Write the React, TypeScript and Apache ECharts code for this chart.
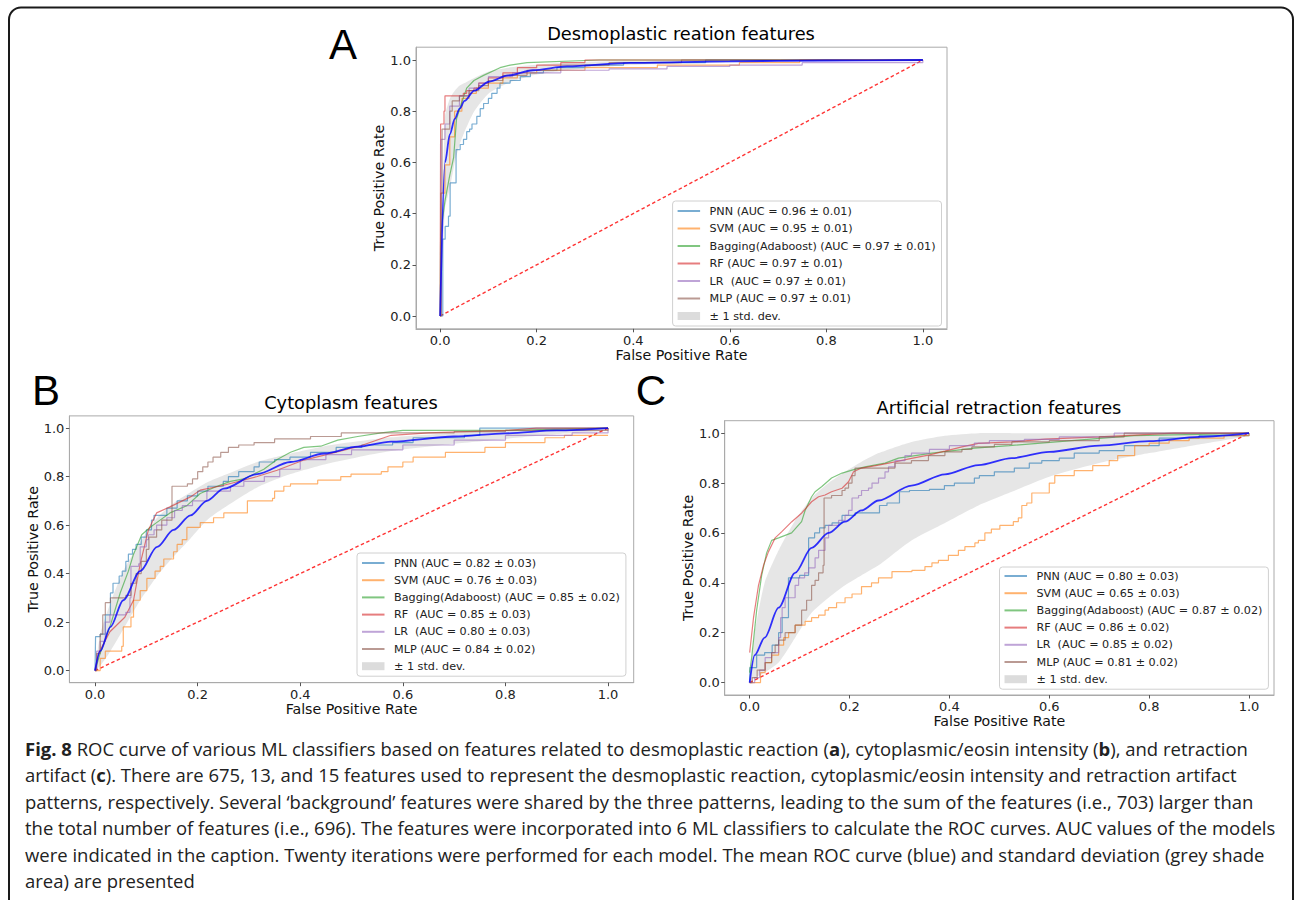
import React, { useEffect, useRef } from "react";
import * as echarts from "echarts";

const FONT = "DejaVu Sans";
const CAPTION_FONT = "Open Sans";
const CAPTION_SIZE = 18.5;
const TICKS = [0, 0.2, 0.4, 0.6, 0.8, 1.0];
const DIAGONAL = [[0, 0], [1, 1]];
const STD_LABEL = "± 1 std. dev.";
const CLASSIFIER_COLORS = ["#1f77b4", "#ff7f0e", "#2ca02c", "#d62728", "#9467bd", "#8c564b"];

// ---------------- Panel A: Desmoplastic reaction ----------------
const titleA = "Desmoplastic reation features";
const legendA = [
  "PNN (AUC = 0.96 ± 0.01)",
  "SVM (AUC = 0.95 ± 0.01)",
  "Bagging(Adaboost) (AUC = 0.97 ± 0.01)",
  "RF (AUC = 0.97 ± 0.01)",
  "LR  (AUC = 0.97 ± 0.01)",
  "MLP (AUC = 0.97 ± 0.01)",
];
const stepsA = ["end", "end", false, "end", "end", "end"];
const pnnA = [[0,0],[0.0055,0.30],[0.0104,0.35],[0.0173,0.39],[0.0207,0.52],[0.033,0.65],[0.0415,0.67],[0.0484,0.69],[0.055,0.72],[0.061,0.73],[0.066,0.75],[0.076,0.78],[0.083,0.81],[0.09,0.83],[0.1,0.85],[0.107,0.87],[0.118,0.89],[0.124,0.91],[0.145,0.92],[0.166,0.935],[0.187,0.95],[0.214,0.96],[0.242,0.97],[0.3,0.98],[0.38,0.99],[0.55,1.0],[1,1]];
const svmA = [[0,0],[0.002,0.48],[0.01,0.59],[0.02,0.7],[0.03,0.8],[0.045,0.85],[0.06,0.87],[0.075,0.89],[0.1,0.91],[0.13,0.93],[0.16,0.95],[0.2,0.96],[0.3,0.97],[0.45,0.98],[0.62,0.99],[0.745,1.0],[1,1]];
const bagA = [[0,0],[0.001,0.32],[0.01,0.45],[0.02,0.55],[0.028,0.62],[0.034,0.77],[0.044,0.83],[0.055,0.89],[0.07,0.92],[0.09,0.94],[0.124,0.97],[0.145,0.98],[0.18,0.99],[0.33,1.0],[1,1]];
const rfA = [[0,0],[0.001,0.75],[0.008,0.80],[0.01,0.86],[0.048,0.87],[0.055,0.88],[0.07,0.89],[0.08,0.91],[0.1,0.93],[0.13,0.95],[0.16,0.97],[0.2,0.98],[0.25,0.99],[0.3,1.0],[1,1]];
const lrA = [[0,0],[0.002,0.69],[0.01,0.75],[0.02,0.82],[0.04,0.86],[0.06,0.89],[0.08,0.91],[0.1,0.935],[0.15,0.95],[0.25,0.96],[0.35,0.965],[0.47,0.975],[0.6,0.98],[0.75,0.99],[1,1]];
const mlpA = [[0,0],[0.002,0.48],[0.004,0.73],[0.02,0.80],[0.025,0.84],[0.04,0.86],[0.06,0.88],[0.08,0.9],[0.1,0.92],[0.13,0.94],[0.18,0.96],[0.25,0.98],[0.35,0.99],[0.5,1.0],[1,1]];
const meanA = [[0,0],[0.0101,0.6],[0.0202,0.71],[0.0303,0.77],[0.0404,0.81],[0.0505,0.84],[0.0707,0.88],[0.101,0.915],[0.141,0.94],[0.192,0.96],[0.263,0.975],[0.394,0.989],[0.6,0.995],[0.8,0.998],[1,1]];
const bandXA = [0,0.0101,0.0202,0.0303,0.0404,0.0505,0.0707,0.101,0.141,0.192,0.263,0.394,0.6,0.8,1];
const bandHiA = [0,0.78,0.85,0.88,0.9,0.91,0.93,0.955,0.97,0.98,0.99,0.997,1,1,1];
const bandLoA = [0,0.42,0.5,0.6,0.67,0.72,0.8,0.87,0.91,0.94,0.96,0.98,0.99,0.995,1];

// ---------------- Panel B: Cytoplasm ----------------
const titleB = "Cytoplasm features";
const legendB = [
  "PNN (AUC = 0.82 ± 0.03)",
  "SVM (AUC = 0.76 ± 0.03)",
  "Bagging(Adaboost) (AUC = 0.85 ± 0.02)",
  "RF  (AUC = 0.85 ± 0.03)",
  "LR  (AUC = 0.80 ± 0.03)",
  "MLP (AUC = 0.84 ± 0.02)",
];
const stepsB = ["end", "end", false, false, "end", "end"];
const pnnB = [[0,0],[0.001,0.14],[0.01,0.15],[0.02,0.23],[0.03,0.32],[0.035,0.36],[0.047,0.39],[0.053,0.41],[0.06,0.45],[0.065,0.48],[0.073,0.5],[0.08,0.52],[0.09,0.55],[0.1,0.58],[0.11,0.62],[0.115,0.64],[0.14,0.67],[0.16,0.7],[0.18,0.72],[0.2,0.74],[0.22,0.76],[0.25,0.78],[0.26,0.8],[0.28,0.82],[0.31,0.84],[0.32,0.86],[0.35,0.87],[0.38,0.88],[0.42,0.9],[0.47,0.92],[0.52,0.93],[0.58,0.94],[0.62,0.96],[0.72,0.97],[0.75,1.0],[1,1]];
const svmB = [[0,0],[0.01,0.05],[0.02,0.08],[0.052,0.1],[0.055,0.18],[0.07,0.22],[0.075,0.29],[0.088,0.33],[0.101,0.38],[0.117,0.41],[0.127,0.43],[0.134,0.46],[0.153,0.49],[0.16,0.52],[0.17,0.54],[0.179,0.59],[0.205,0.61],[0.231,0.63],[0.251,0.65],[0.297,0.70],[0.346,0.71],[0.35,0.74],[0.368,0.76],[0.381,0.77],[0.434,0.785],[0.479,0.80],[0.499,0.81],[0.558,0.82],[0.571,0.84],[0.6,0.86],[0.62,0.88],[0.683,0.9],[0.76,0.92],[0.8,0.94],[0.877,0.96],[0.915,0.97],[1,0.97]];
const bagB = [[0,0],[0.0098,0.07],[0.029,0.18],[0.049,0.32],[0.065,0.41],[0.075,0.48],[0.091,0.56],[0.107,0.59],[0.12,0.61],[0.146,0.65],[0.179,0.68],[0.205,0.73],[0.238,0.76],[0.264,0.78],[0.29,0.79],[0.329,0.83],[0.355,0.87],[0.381,0.9],[0.407,0.92],[0.44,0.925],[0.473,0.95],[0.512,0.965],[0.558,0.98],[0.6,0.99],[0.8,0.99],[1,1]];
const rfB = [[0,0],[0.0065,0.07],[0.029,0.16],[0.058,0.22],[0.075,0.29],[0.088,0.44],[0.104,0.58],[0.12,0.65],[0.146,0.675],[0.186,0.716],[0.205,0.744],[0.251,0.764],[0.316,0.8],[0.355,0.826],[0.407,0.868],[0.447,0.888],[0.512,0.923],[0.577,0.97],[0.65,0.98],[0.8,0.99],[0.86,1],[1,1]];
const lrB = [[0,0],[0.003,0.08],[0.01,0.12],[0.02,0.2],[0.029,0.23],[0.06,0.24],[0.068,0.3],[0.07,0.43],[0.085,0.44],[0.088,0.51],[0.1,0.54],[0.104,0.56],[0.115,0.58],[0.12,0.6],[0.14,0.63],[0.155,0.66],[0.17,0.68],[0.19,0.7],[0.218,0.74],[0.264,0.76],[0.29,0.78],[0.33,0.8],[0.36,0.83],[0.4,0.87],[0.45,0.89],[0.5,0.91],[0.6,0.93],[0.7,0.95],[0.8,0.97],[0.93,0.98],[1,1]];
const mlpB = [[0,0],[0.003,0.07],[0.01,0.15],[0.015,0.23],[0.02,0.28],[0.03,0.3],[0.06,0.31],[0.07,0.36],[0.08,0.4],[0.09,0.45],[0.1,0.5],[0.105,0.55],[0.12,0.58],[0.13,0.62],[0.15,0.62],[0.15,0.76],[0.18,0.77],[0.19,0.79],[0.2,0.82],[0.21,0.84],[0.22,0.86],[0.23,0.88],[0.245,0.9],[0.26,0.92],[0.28,0.93],[0.31,0.94],[0.35,0.955],[0.42,0.965],[0.48,0.98],[0.7,0.985],[0.8,0.99],[1,1]];
const meanB = [[0,0],[0.0101,0.08],[0.03,0.18],[0.055,0.29],[0.088,0.41],[0.121,0.51],[0.153,0.58],[0.186,0.64],[0.218,0.70],[0.251,0.75],[0.316,0.81],[0.381,0.86],[0.447,0.895],[0.512,0.923],[0.577,0.944],[0.7,0.965],[0.8,0.978],[0.9,0.99],[1,1]];
const bandXB = [0,0.0101,0.03,0.055,0.088,0.121,0.153,0.186,0.218,0.251,0.316,0.381,0.447,0.512,0.577,0.7,0.8,0.9,1];
const bandHiB = [0,0.15,0.28,0.41,0.53,0.63,0.69,0.735,0.775,0.805,0.86,0.895,0.925,0.945,0.962,0.98,0.99,0.997,1];
const bandLoB = [0,0.02,0.08,0.17,0.29,0.39,0.47,0.545,0.62,0.67,0.755,0.81,0.85,0.88,0.905,0.935,0.955,0.975,0.99];

// ---------------- Panel C: Artificial retraction ----------------
const titleC = "Artificial retraction features";
const legendC = [
  "PNN (AUC = 0.80 ± 0.03)",
  "SVM (AUC = 0.65 ± 0.03)",
  "Bagging(Adaboost) (AUC = 0.87 ± 0.02)",
  "RF (AUC = 0.86 ± 0.02)",
  "LR  (AUC = 0.85 ± 0.02)",
  "MLP (AUC = 0.81 ± 0.02)",
];
const stepsC = ["end", "end", false, false, "end", "end"];
const pnnC = [[0,0],[0.0004,0.06],[0.014,0.11],[0.03,0.12],[0.045,0.15],[0.058,0.2],[0.065,0.26],[0.0777,0.42],[0.1,0.43],[0.118,0.58],[0.13,0.6],[0.14,0.62],[0.151,0.63],[0.165,0.64],[0.185,0.67],[0.211,0.68],[0.26,0.71],[0.275,0.72],[0.3,0.765],[0.32,0.77],[0.36,0.775],[0.39,0.79],[0.41,0.8],[0.45,0.82],[0.46,0.83],[0.49,0.845],[0.53,0.86],[0.56,0.88],[0.585,0.89],[0.62,0.9],[0.65,0.92],[0.7,0.93],[0.75,0.95],[0.82,0.98],[0.9,0.99],[1,1]];
const svmC = [[0,0],[0.012,0.0],[0.0217,0.04],[0.031,0.08],[0.044,0.11],[0.058,0.15],[0.068,0.18],[0.078,0.2],[0.091,0.23],[0.111,0.245],[0.124,0.26],[0.138,0.27],[0.151,0.29],[0.158,0.3],[0.174,0.32],[0.191,0.34],[0.205,0.355],[0.224,0.385],[0.244,0.4],[0.258,0.42],[0.285,0.445],[0.325,0.45],[0.351,0.465],[0.365,0.48],[0.378,0.49],[0.398,0.51],[0.418,0.53],[0.431,0.545],[0.451,0.56],[0.458,0.57],[0.471,0.6],[0.484,0.615],[0.501,0.63],[0.528,0.645],[0.538,0.66],[0.545,0.71],[0.555,0.72],[0.565,0.76],[0.6,0.8],[0.611,0.83],[0.65,0.85],[0.687,0.87],[0.72,0.89],[0.737,0.91],[0.771,0.95],[0.8,0.96],[0.84,0.97],[0.88,0.98],[0.95,0.99],[1,1]];
const bagC = [[0,0.04],[0.004,0.1],[0.014,0.29],[0.024,0.43],[0.034,0.52],[0.044,0.57],[0.058,0.58],[0.084,0.6],[0.104,0.645],[0.111,0.69],[0.124,0.745],[0.131,0.765],[0.144,0.785],[0.164,0.82],[0.185,0.84],[0.205,0.852],[0.231,0.865],[0.271,0.88],[0.298,0.9],[0.365,0.92],[0.45,0.94],[0.52,0.95],[0.645,0.97],[0.77,0.99],[0.9,0.995],[1,1]];
const rfC = [[0,0.12],[0.0077,0.26],[0.0177,0.39],[0.0277,0.47],[0.0377,0.525],[0.051,0.58],[0.0644,0.605],[0.0844,0.645],[0.1044,0.68],[0.124,0.725],[0.138,0.745],[0.151,0.752],[0.164,0.765],[0.185,0.779],[0.198,0.805],[0.208,0.845],[0.224,0.86],[0.258,0.872],[0.291,0.885],[0.324,0.899],[0.358,0.912],[0.391,0.928],[0.425,0.945],[0.458,0.959],[0.525,0.965],[0.591,0.976],[0.7,0.985],[0.85,1],[1,1]];
const lrC = [[0,0],[0.01,0.02],[0.02,0.05],[0.031,0.1],[0.044,0.12],[0.058,0.18],[0.062,0.26],[0.065,0.3],[0.071,0.34],[0.091,0.39],[0.098,0.42],[0.11,0.44],[0.118,0.46],[0.131,0.5],[0.138,0.53],[0.151,0.58],[0.158,0.63],[0.178,0.65],[0.191,0.67],[0.198,0.69],[0.205,0.74],[0.218,0.75],[0.224,0.77],[0.238,0.78],[0.245,0.8],[0.258,0.82],[0.271,0.845],[0.278,0.865],[0.291,0.89],[0.311,0.91],[0.324,0.92],[0.36,0.935],[0.4,0.95],[0.45,0.96],[0.48,0.97],[0.55,0.975],[0.62,0.985],[0.73,1.0],[1,1]];
const mlpC = [[0,0],[0.005,0.02],[0.015,0.05],[0.031,0.08],[0.044,0.12],[0.051,0.15],[0.058,0.17],[0.071,0.2],[0.091,0.23],[0.104,0.29],[0.114,0.33],[0.124,0.39],[0.131,0.41],[0.138,0.44],[0.147,0.47],[0.149,0.74],[0.164,0.75],[0.185,0.77],[0.191,0.78],[0.198,0.8],[0.205,0.83],[0.211,0.86],[0.291,0.88],[0.324,0.89],[0.358,0.91],[0.391,0.925],[0.425,0.935],[0.445,0.945],[0.49,0.955],[0.525,0.965],[0.6,0.97],[0.7,0.985],[0.75,1],[1,1]];
const meanC = [[0,0],[0.0101,0.11],[0.03,0.18],[0.058,0.3],[0.091,0.44],[0.124,0.54],[0.158,0.6],[0.191,0.645],[0.224,0.69],[0.258,0.73],[0.324,0.79],[0.391,0.835],[0.458,0.872],[0.525,0.9],[0.6,0.925],[0.7,0.95],[0.8,0.968],[0.9,0.985],[1,1]];
const bandXC = [0,0.0101,0.03,0.058,0.091,0.124,0.158,0.191,0.224,0.258,0.324,0.391,0.458,0.525,0.6,0.7,0.8,0.9,1];
const bandHiC = [0,0.2,0.4,0.53,0.65,0.74,0.8,0.845,0.885,0.92,0.965,0.99,1,1,1,1,1,1,1];
const bandLoC = [0,0.02,0.04,0.08,0.18,0.28,0.34,0.39,0.43,0.47,0.57,0.64,0.71,0.765,0.825,0.88,0.92,0.955,0.99];

// ---------------- Caption ----------------
const CAPTION_LINES = [
  "{b|Fig. 8} ROC curve of various ML classifiers based on features related to desmoplastic reaction ({b|a}), cytoplasmic/eosin intensity ({b|b}), and retraction",
  "artifact ({b|c}). There are 675, 13, and 15 features used to represent the desmoplastic reaction, cytoplasmic/eosin intensity and retraction artifact",
  "patterns, respectively. Several \u2018background\u2019 features were shared by the three patterns, leading to the sum of the features (i.e., 703) larger than",
  "the total number of features (i.e., 696). The features were incorporated into 6 ML classifiers to calculate the ROC curves. AUC values of the models",
  "were indicated in the caption. Twenty iterations were performed for each model. The mean ROC curve (blue) and standard deviation (grey shade",
  "area) are presented",
];

const PANELS = [
  {
    letter: "A", title: titleA, legend: legendA, steps: stepsA,
    curves: [pnnA, svmA, bagA, rfA, lrA, mlpA], mean: meanA,
    bandX: bandXA, bandLo: bandLoA, bandHi: bandHiA,
    layout: { grid: { left: 416, top: 47.2, width: 531, height: 281.6 }, title: [681, 33], letterXY: [343, 44],
      legend: { left: 672.6, top: 201, gap: 5.5, padTop: 4 }, xNameGap: 18 },
  },
  {
    letter: "B", title: titleB, legend: legendB, steps: stepsB,
    curves: [pnnB, svmB, bagB, rfB, lrB, mlpB], mean: meanB,
    bandX: bandXB, bandLo: bandLoB, bandHi: bandHiB,
    layout: { grid: { left: 69.4, top: 415.9, width: 564.3, height: 266.8 }, title: [351, 402], letterXY: [46, 390],
      legend: { left: 357, top: 553, gap: 5.2, padTop: 4 }, xNameGap: 16 },
  },
  {
    letter: "C", title: titleC, legend: legendC, steps: stepsC,
    curves: [pnnC, svmC, bagC, rfC, lrC, mlpC], mean: meanC,
    bandX: bandXC, bandLo: bandLoC, bandHi: bandHiC,
    layout: { grid: { left: 724.7, top: 420.7, width: 549.3, height: 274.3 }, title: [999, 407], letterXY: [651, 390],
      legend: { left: 999.5, top: 567, gap: 5.2, padTop: 3 }, xNameGap: 16 },
  },
];

function measureRich(ctx: CanvasRenderingContext2D, s: string) {
  const re = /\{b\|([^}]*)\}/g;
  let w = 0, last = 0, m: RegExpExecArray | null;
  const normal = `${CAPTION_SIZE}px "${CAPTION_FONT}"`;
  const bold = `bold ${CAPTION_SIZE}px "${CAPTION_FONT}"`;
  while ((m = re.exec(s))) {
    ctx.font = normal; w += ctx.measureText(s.slice(last, m.index)).width;
    ctx.font = bold; w += ctx.measureText(m[1]).width;
    last = re.lastIndex;
  }
  ctx.font = normal; w += ctx.measureText(s.slice(last)).width;
  return w;
}

function buildOption() {
  const ctx = document.createElement("canvas").getContext("2d") as CanvasRenderingContext2D;
  const s1 = 1224 / measureRich(ctx, CAPTION_LINES[0]);
  const s4 = 1249 / measureRich(ctx, CAPTION_LINES[3]);
  const capScale = (s1 + s4) / 2;

  const series: any[] = [];
  PANELS.forEach((p, i) => {
    const ax = { xAxisIndex: i, yAxisIndex: i };
    series.push({
      ...ax, name: STD_LABEL, type: "custom", coordinateSystem: "cartesian2d", silent: true, z: 1,
      itemStyle: { color: "#d9d9d9" },
      data: [[0.5, 0.5]], encode: { x: 0, y: 1 },
      renderItem: (_params: any, api: any) => {
        const upper = p.bandX.map((x, k) => api.coord([x, p.bandHi[k]]));
        const lower = p.bandX.map((x, k) => api.coord([x, p.bandLo[k]])).reverse();
        return {
          type: "polygon",
          shape: { points: upper.concat(lower), smooth: 0.2 },
          style: { fill: "rgba(128,128,128,0.2)", stroke: "none" },
          silent: true,
        };
      },
    });
    series.push({
      ...ax, name: "chance-" + p.letter, type: "line", symbol: "none", silent: true, z: 2,
      data: DIAGONAL, lineStyle: { color: "rgba(255,0,0,0.8)", width: 1.4, type: [3.5, 2.5] },
    });
    p.curves.forEach((c, k) => {
      series.push({
        ...ax, name: p.legend[k], type: "line", symbol: "none", silent: true, z: 3,
        step: p.steps[k] || false, data: c,
        itemStyle: { color: CLASSIFIER_COLORS[k] },
        lineStyle: { color: CLASSIFIER_COLORS[k], width: 1.2, opacity: 0.6 },
      });
    });
    series.push({
      ...ax, name: "mean-" + p.letter, type: "line", symbol: "none", silent: true, z: 4,
      smooth: 0.3, smoothMonotone: "x", data: p.mean,
      lineStyle: { color: "rgba(0,0,255,0.8)", width: 1.8 },
    });
  });

  const axisCommon = {
    type: "value", min: -0.05, max: 1.05,
    nameLocation: "middle",
    nameTextStyle: { fontFamily: FONT, fontSize: 14.2, color: "#111" },
    axisLine: { show: true, onZero: false, lineStyle: { color: "#aaa" } },
    axisTick: { show: true, customValues: TICKS, length: 3.5, lineStyle: { color: "#555" } },
    axisLabel: { customValues: TICKS, formatter: (v: number) => v.toFixed(1), margin: 5, fontFamily: FONT, fontSize: 13, color: "#222" },
    splitLine: { show: false },
  };

  const graphic: any[] = [
    { type: "rect", shape: { x: 9, y: 7.5, width: 1284, height: 960, r: 12 }, style: { fill: "none", stroke: "#1a1a1a", lineWidth: 2 }, silent: true, z: 0 },
  ];
  PANELS.forEach((p) => {
    graphic.push({
      type: "text", x: p.layout.letterXY[0], y: p.layout.letterXY[1], silent: true,
      style: { text: p.letter, fontFamily: "Liberation Sans", fontSize: 42, fill: "#000", align: "center", verticalAlign: "middle" },
    });
  });
  CAPTION_LINES.forEach((line, i) => {
    graphic.push({
      type: "text", x: 25, y: 748 + i * 26.5, scaleX: capScale, silent: true,
      style: {
        text: line, fontFamily: CAPTION_FONT, fontSize: CAPTION_SIZE, fill: "#222", align: "left", verticalAlign: "middle",
        rich: { b: { fontFamily: CAPTION_FONT, fontSize: CAPTION_SIZE, fontWeight: "bold", fill: "#222" } },
      },
    });
  });

  return {
    animation: false,
    backgroundColor: "#ffffff",
    title: PANELS.map((p) => ({
      text: p.title, left: p.layout.title[0], top: p.layout.title[1], textAlign: "center", textVerticalAlign: "middle", padding: 0,
      textStyle: { fontFamily: FONT, fontSize: 17.8, fontWeight: "normal", color: "#000" },
    })),
    grid: PANELS.map((p) => ({ ...p.layout.grid, show: true, borderColor: "#aaa", borderWidth: 1, containLabel: false })),
    xAxis: PANELS.map((p, i) => ({ ...axisCommon, gridIndex: i, name: "False Positive Rate", nameGap: p.layout.xNameGap })),
    yAxis: PANELS.map((p, i) => ({ ...axisCommon, gridIndex: i, name: "True Positive Rate", nameGap: 28, nameRotate: 90 })),
    legend: PANELS.map((p) => ({
      orient: "vertical", left: p.layout.legend.left, top: p.layout.legend.top,
      padding: [p.layout.legend.padTop, 6, 4, 4], itemGap: p.layout.legend.gap,
      itemWidth: 22.5, itemHeight: 8, selectedMode: false,
      backgroundColor: "rgba(255,255,255,0.85)", borderColor: "#d0d0d0", borderWidth: 1, borderRadius: 3,
      textStyle: { fontFamily: FONT, fontSize: 11.2, color: "#222", lineHeight: 12, padding: [0, 0, 0, 4.5] },
      itemStyle: { opacity: 0 },
      data: [
        ...p.legend.map((n) => ({ name: n })),
        { name: STD_LABEL, icon: "rect", itemStyle: { color: "#dcdcdc", opacity: 1, borderWidth: 0 } },
      ],
    })),
    series,
    graphic,
  };
}

export default function App() {
  const ref = useRef<HTMLDivElement>(null);
  useEffect(() => {
    if (!ref.current) return;
    const chart = echarts.init(ref.current, undefined, { renderer: "svg" });
    chart.setOption(buildOption() as any);
    return () => chart.dispose();
  }, []);
  return <div ref={ref} style={{ position: "absolute", left: 0, top: 0, width: 1295, height: 900, background: "#fff" }} />;
}
